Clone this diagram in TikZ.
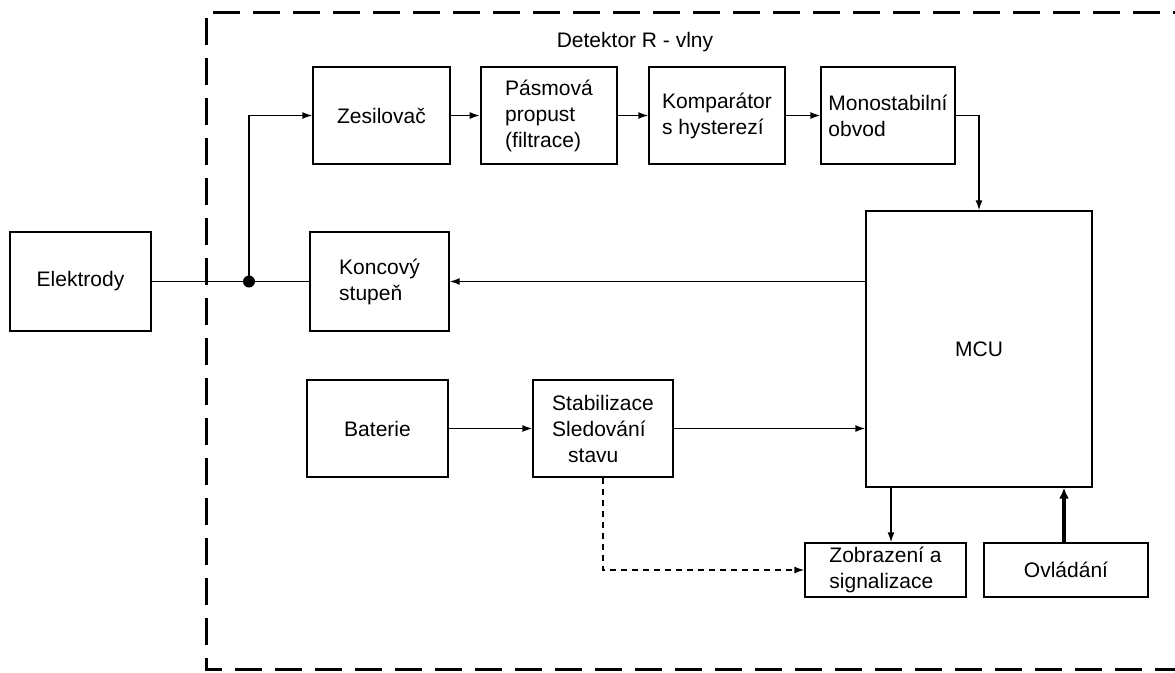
\documentclass[tikz,border=0pt]{standalone}
\usepackage{fontspec}
\setmainfont{Liberation Sans}
\usetikzlibrary{arrows.meta}
\begin{document}
\begin{tikzpicture}[x=1pt,y=-1pt,
  txt/.style={font=\fontsize{21}{26}\selectfont, text=black},
  box/.style={txt, draw, line width=1.4pt, rectangle, inner sep=0pt, align=left},
  conn/.style={line width=1.4pt, -{Latex[length=10pt,width=7pt]}},
  thickconn/.style={line width=3.2pt, -{Latex[length=11pt,width=10pt]}},
  plain/.style={line width=1.4pt},
  frame/.style={line width=3pt, dash pattern=on 27pt off 13pt},
  dashconn/.style={conn, dash pattern=on 6pt off 5pt}
]
\useasboundingbox (0,0) rectangle (1175,672);
\begin{scope}
  \clip (0,0) rectangle (1175,672);
  \draw[frame] (1200,12) -- (206,12) -- (206,669) -- (1200,669);
\end{scope}

\node[txt] (title) at (635,42) {Detektor R - vlny};

\node[box, minimum width=141pt, minimum height=99pt] (elek) at (80.5,281.5) {Elektrody};
\node[box, minimum width=137pt, minimum height=97pt] (zes) at (381.5,115.5) {Zesilovač};
\node[box, line width=2.6pt, minimum width=136pt, minimum height=97pt] (pas) at (549,115.5) {Pásmová\\propust\\(filtrace)};
\node[box, minimum width=136pt, minimum height=97pt] (komp) at (717,115.5) {Komparátor\\s hysterezí};
\node[box, minimum width=134pt, minimum height=97pt] (mono) at (888,115.5) {Monostabilní\\obvod};
\node[box, minimum width=139pt, minimum height=99pt] (konc) at (379.5,281.5) {Koncový\\stupeň};
\node[box, minimum width=141pt, minimum height=97pt] (bat) at (377.5,428.5) {Baterie};
\node[box, minimum width=140pt, minimum height=97pt] (stab) at (603,428.5) {Stabilizace\\Sledování\\\hspace*{16pt}stavu};
\node[box, minimum width=226pt, minimum height=276pt] (mcu) at (979,349) {MCU};
\node[box, minimum width=161pt, minimum height=54pt] (zobr) at (885.5,570) {Zobrazení a\\signalizace};
\node[box, minimum width=164pt, minimum height=54pt] (ovl) at (1066,570) {Ovládání};

\coordinate (j) at (249,281.5);
\coordinate (zin) at ([xshift=5.5pt]zobr.north);
\coordinate (oout) at ([xshift=-2pt]ovl.north);

\draw[plain] (elek.east) -- (konc.west);
\fill (j) circle (6pt);
\draw[conn] (j) |- (zes.west);
\draw[conn] (zes) -- (pas);
\draw[conn] (pas) -- (komp);
\draw[conn] (komp) -- (mono);
\draw[conn] (mono.east) -| (mcu.north);
\draw[conn] (mcu.west |- konc.east) -- (konc.east);
\draw[conn] (bat) -- (stab);
\draw[conn] (stab.east) -- (stab.east -| mcu.west);
\draw[dashconn] (stab.south) |- (zobr.west);
\draw[conn] (mcu.south -| zin) -- (zin);
\draw[thickconn] (oout) -- (oout |- mcu.south);
\end{tikzpicture}
\end{document}
